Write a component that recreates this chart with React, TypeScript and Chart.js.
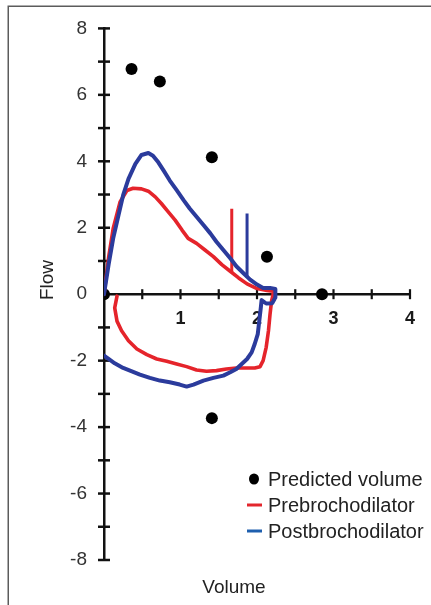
import React, { useEffect, useRef } from 'react';
import { Chart, registerables } from 'chart.js';

Chart.register(...registerables);

const FONT = '"Liberation Sans", Arial, Helvetica, sans-serif';

// Predicted volume points
const predictedX = [0, 0.36, 0.73, 1.41, 2.13, 2.85, 1.41];
const predictedY = [0, 6.78, 6.4, 4.12, 1.13, 0, -3.73];

// Prebronchodilator – expiratory limb (left → right)
const preExpX = [0, 0.06, 0.12, 0.21, 0.3, 0.38, 0.49, 0.58, 0.67, 0.75, 0.84, 0.93, 1.02, 1.1, 1.21, 1.32, 1.43, 1.54, 1.65, 1.76, 1.87, 2.0, 2.13, 2.21];
const preExpY = [0, 1.1, 1.98, 2.78, 3.12, 3.19, 3.17, 3.1, 2.93, 2.73, 2.48, 2.23, 1.93, 1.68, 1.53, 1.33, 1.13, 0.89, 0.69, 0.49, 0.31, 0.17, 0.11, 0.09];

// Prebronchodilator – inspiratory limb (left → right)
const preInspX = [0.17, 0.14, 0.17, 0.23, 0.32, 0.43, 0.56, 0.69, 0.82, 0.95, 1.08, 1.21, 1.34, 1.47, 1.6, 1.73, 1.87, 1.97, 2.04, 2.08, 2.12, 2.15, 2.17, 2.19, 2.21];
const preInspY = [-0.06, -0.41, -0.81, -1.1, -1.4, -1.65, -1.82, -1.95, -2.02, -2.1, -2.18, -2.28, -2.32, -2.3, -2.25, -2.22, -2.22, -2.22, -2.18, -2.0, -1.6, -1.1, -0.61, -0.21, -0.01];

// Postbronchodilator – expiratory limb (left → right)
const postExpX = [0, 0.06, 0.12, 0.19, 0.25, 0.32, 0.41, 0.49, 0.58, 0.64, 0.71, 0.78, 0.86, 0.95, 1.04, 1.12, 1.21, 1.3, 1.39, 1.47, 1.56, 1.65, 1.73, 1.82, 1.91, 2.0, 2.08, 2.17, 2.24];
const postExpY = [0, 0.89, 1.68, 2.38, 2.98, 3.47, 3.92, 4.19, 4.25, 4.17, 3.97, 3.72, 3.42, 3.13, 2.83, 2.58, 2.33, 2.08, 1.83, 1.58, 1.33, 1.08, 0.84, 0.64, 0.44, 0.29, 0.19, 0.19, 0.16];

// Postbronchodilator – inspiratory limb (right → left, drawing order)
const postInspX = [2.24, 2.2, 2.12, 2.06, 2.05, 2.03, 2.01, 1.97, 1.93, 1.87, 1.8, 1.73, 1.65, 1.56, 1.43, 1.3, 1.17, 1.08, 0.99, 0.86, 0.73, 0.6, 0.47, 0.34, 0.25, 0.14, 0.06, 0];
const postInspY = [-0.1, -0.27, -0.28, -0.18, -0.4, -0.8, -1.2, -1.5, -1.75, -1.95, -2.1, -2.25, -2.35, -2.45, -2.52, -2.6, -2.72, -2.78, -2.72, -2.65, -2.6, -2.52, -2.42, -2.3, -2.22, -2.08, -1.95, -1.85];

// Vertical markers
const preMarkX = [1.67, 1.67];
const preMarkY = [2.57, 0.66];
const postMarkX = [1.87, 1.87];
const postMarkY = [2.43, 0.5];

// Axis ticks
const xTickMarks = [0.5, 1, 1.5, 2, 2.5, 3, 3.5, 4];
const yTickMarks = [-8, -7, -6, -5, -4, -3, -2, -1, 1, 2, 3, 4, 5, 6, 7, 8];

const legendLabels = ['Predicted volume', 'Prebrochodilator', 'Postbrochodilator'];

const RED = '#e5242b';
const BLUE = '#2b3b9c';

const pts = (xs: number[], ys: number[]) => xs.map((x, i) => ({ x, y: ys[i] }));

const decorPlugin = {
  id: 'decor',
  beforeDraw(chart: any) {
    const ctx = chart.ctx;
    ctx.save();
    ctx.strokeStyle = '#5c5c5c';
    ctx.lineWidth = 1.5;
    ctx.beginPath();
    ctx.moveTo(8.25, 605);
    ctx.lineTo(8.25, 6.25);
    ctx.lineTo(431, 6.25);
    ctx.stroke();
    ctx.restore();
  },
  beforeDatasetsDraw(chart: any) {
    const { ctx, scales } = chart;
    const xs = scales.x;
    const ys = scales.y;
    const x0 = xs.getPixelForValue(0);
    const y0 = ys.getPixelForValue(0);
    ctx.save();
    ctx.strokeStyle = '#111';
    ctx.lineWidth = 2.5;
    yTickMarks.forEach((v) => {
      const py = ys.getPixelForValue(v);
      ctx.beginPath();
      ctx.moveTo(x0 - 6, py);
      ctx.lineTo(x0 + 6, py);
      ctx.stroke();
    });
    ctx.lineWidth = 2.2;
    xTickMarks.forEach((v) => {
      const px = xs.getPixelForValue(v);
      ctx.beginPath();
      ctx.moveTo(px, y0 - 5);
      ctx.lineTo(px, y0 + 5);
      ctx.stroke();
    });
    ctx.restore();
  },
  afterDraw(chart: any) {
    const ctx = chart.ctx;
    ctx.save();
    // axis titles
    ctx.fillStyle = '#222';
    ctx.font = `19px ${FONT}`;
    ctx.textAlign = 'center';
    ctx.textBaseline = 'alphabetic';
    ctx.fillText('Volume', 234, 593);
    ctx.save();
    ctx.translate(53, 280);
    ctx.rotate(-Math.PI / 2);
    ctx.fillText('Flow', 0, 0);
    ctx.restore();

    // legend
    ctx.font = `20px ${FONT}`;
    ctx.textAlign = 'left';
    ctx.textBaseline = 'middle';
    const rows = [479, 505, 531];
    ctx.fillStyle = '#000';
    ctx.beginPath();
    ctx.ellipse(254, rows[0], 5, 5.5, 0, 0, Math.PI * 2);
    ctx.fill();
    ctx.lineWidth = 3;
    ctx.strokeStyle = '#e3262d';
    ctx.beginPath();
    ctx.moveTo(247, rows[1]);
    ctx.lineTo(262, rows[1]);
    ctx.stroke();
    ctx.strokeStyle = '#1e5fae';
    ctx.beginPath();
    ctx.moveTo(247, rows[2]);
    ctx.lineTo(262, rows[2]);
    ctx.stroke();
    ctx.fillStyle = '#222';
    legendLabels.forEach((t, i) => ctx.fillText(t, 268, rows[i] + 1));
    ctx.restore();
  },
};

export default function App() {
  const ref = useRef<HTMLCanvasElement | null>(null);

  useEffect(() => {
    if (!ref.current) return;
    const chart = new Chart(ref.current, {
      type: 'scatter',
      data: {
        datasets: [
          {
            label: 'Postbrochodilator',
            data: [...pts(postExpX, postExpY), ...pts(postInspX, postInspY)],
            showLine: true,
            borderColor: BLUE,
            borderWidth: 4,
            borderJoinStyle: 'round',
            borderCapStyle: 'round',
            pointRadius: 0,
            fill: false,
          },
          {
            label: 'Postbrochodilator marker',
            data: pts(postMarkX, postMarkY),
            showLine: true,
            borderColor: BLUE,
            borderWidth: 3,
            pointRadius: 0,
          },
          {
            label: 'Prebrochodilator',
            data: [...pts(preExpX, preExpY), ...pts(preInspX, preInspY).reverse()],
            showLine: true,
            borderColor: RED,
            borderWidth: 3.6,
            borderJoinStyle: 'round',
            borderCapStyle: 'round',
            pointRadius: 0,
            fill: false,
          },
          {
            label: 'Prebrochodilator marker',
            data: pts(preMarkX, preMarkY),
            showLine: true,
            borderColor: RED,
            borderWidth: 3,
            pointRadius: 0,
          },
          {
            label: 'Predicted volume',
            data: pts(predictedX, predictedY),
            showLine: false,
            backgroundColor: '#000',
            borderColor: '#000',
            pointRadius: 6,
            pointBorderWidth: 0,
          },
        ],
      },
      options: {
        responsive: false,
        devicePixelRatio: 1,
        animation: false,
        layout: { padding: { left: 0, top: 24, right: 21, bottom: 45 } },
        plugins: { legend: { display: false }, tooltip: { enabled: false } },
        scales: {
          x: {
            type: 'linear',
            min: 0,
            max: 4,
            position: { y: 0 } as any,
            grid: { display: false, drawTicks: false },
            border: { display: true, color: '#111', width: 2.5 },
            ticks: {
              stepSize: 1,
              padding: 14,
              color: '#1a1a1a',
              font: { family: FONT, size: 18, weight: 'bold' },
              callback: (v: any) => (v === 0 ? '' : String(v)),
            },
            afterFit: (s: any) => {
              s.height = 0;
            },
          },
          y: {
            type: 'linear',
            min: -8,
            max: 8,
            position: 'left',
            grid: { display: false, drawTicks: false },
            border: { display: true, color: '#111', width: 2.5 },
            ticks: {
              stepSize: 2,
              padding: 17,
              color: '#333',
              font: { family: FONT, size: 19 },
            },
            afterFit: (s: any) => {
              s.width = 104;
            },
          },
        },
      },
      plugins: [decorPlugin],
    });
    return () => chart.destroy();
  }, []);

  return (
    <div style={{ position: 'fixed', left: 0, top: 0, width: 431, height: 605, background: '#fff' }}>
      <canvas ref={ref} width={431} height={605} style={{ display: 'block', width: 431, height: 605 }} />
    </div>
  );
}
